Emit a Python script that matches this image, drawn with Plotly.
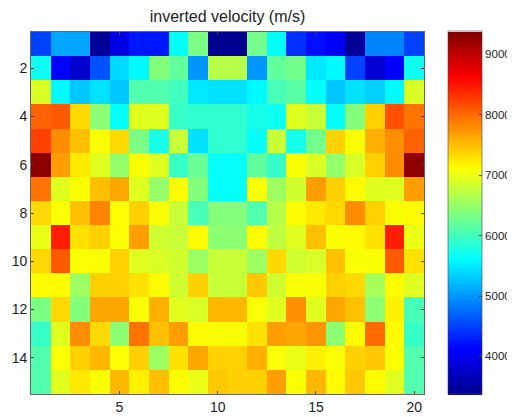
import plotly.graph_objects as go

columns = list(range(1, 21))
rows = list(range(1, 16))
x_ticks = [5, 10, 15, 20]
y_ticks = [2, 4, 6, 8, 10, 12, 14]
cbar_ticks = [4000, 5000, 6000, 7000, 8000, 9000]

row01 = [4500, 5100, 5100, 3450, 3950, 4250, 4250, 5650, 6350, 3400, 3400, 6300, 5650, 4400, 4200, 4050, 3450, 4900, 4900, 4500]
row02 = [5700, 4100, 3800, 4600, 5400, 5600, 6400, 6200, 5000, 6700, 6700, 5000, 6200, 6300, 5500, 5600, 4500, 3850, 4100, 5700]
row03 = [6900, 5600, 5300, 5450, 5300, 6100, 6100, 6000, 5500, 5450, 5450, 5600, 6050, 6150, 5650, 5300, 5450, 5350, 5600, 6900]
row04 = [8050, 8100, 7350, 6450, 5650, 6950, 6950, 5950, 5900, 5900, 5900, 5750, 5700, 6950, 6800, 5650, 6400, 7400, 8150, 7950]
row05 = [8250, 7800, 7500, 7100, 7350, 6350, 5750, 6800, 5450, 5900, 5900, 5650, 6800, 5750, 6300, 7400, 7100, 7600, 7800, 8050]
row06 = [9300, 7700, 7250, 6950, 6500, 7100, 6950, 5950, 6250, 5650, 5650, 6200, 5950, 7100, 6900, 6500, 6900, 7400, 7800, 9300]
row07 = [7950, 6950, 7100, 7500, 7650, 6950, 6500, 7150, 6400, 5650, 5650, 7100, 6550, 6850, 7700, 7400, 7150, 6950, 6950, 7700]
row08 = [7350, 7100, 7500, 7850, 7100, 7400, 7100, 6800, 6050, 6400, 6400, 6100, 6700, 7150, 7250, 7350, 7800, 7400, 7100, 7150]
row09 = [7000, 8450, 7300, 7400, 7100, 7700, 6850, 6800, 7150, 6450, 6450, 7150, 6750, 6950, 7500, 7100, 7150, 7300, 8450, 7000]
row10 = [7350, 8100, 7100, 7100, 7400, 6950, 6900, 6850, 6550, 6800, 6800, 6550, 7350, 6850, 6900, 7500, 7100, 7100, 8100, 7300]
row11 = [7150, 7150, 6550, 7400, 7400, 7300, 7150, 6850, 7400, 6800, 6800, 7450, 6850, 7100, 7100, 7400, 7350, 6600, 7150, 6950]
row12 = [6350, 7350, 6400, 7650, 7650, 7100, 7600, 6950, 6900, 7550, 7550, 7100, 6950, 7800, 6950, 7650, 7500, 6450, 7200, 6050]
row13 = [5950, 6950, 7800, 7350, 6450, 7950, 7500, 7700, 7150, 7100, 7100, 7300, 7700, 7650, 7750, 6450, 7150, 8000, 7150, 5950]
row14 = [6100, 7100, 7400, 7550, 7100, 7400, 6550, 7300, 7650, 7400, 7400, 7600, 7100, 7000, 7200, 7100, 7400, 7450, 7100, 6100]
row15 = [6100, 6950, 7250, 7100, 7550, 7200, 7500, 7150, 7000, 7450, 7400, 7400, 7700, 7100, 7550, 7150, 7450, 7150, 6950, 6100]

velocity = [row01, row02, row03, row04, row05, row06, row07, row08,
            row09, row10, row11, row12, row13, row14, row15]

jet = [
    [0.0, "rgb(0,0,140)"],
    [0.125, "rgb(0,0,255)"],
    [0.375, "rgb(0,255,255)"],
    [0.625, "rgb(255,255,0)"],
    [0.875, "rgb(255,0,0)"],
    [1.0, "rgb(128,0,0)"],
]

# the page body has an 8px margin, so the figure is sized to fit the 515x417 window
W, H = 507, 409

fig = go.Figure(go.Heatmap(
    z=velocity, x=columns, y=rows,
    colorscale=jet, zmin=3370, zmax=9380,
    xgap=0, ygap=0,
    colorbar=dict(
        x=1.061, xanchor="left", xref="paper",
        y=0.5, yanchor="middle", len=1.003, lenmode="fraction",
        thickness=34, outlinewidth=0.6, outlinecolor="#444",
        tickvals=cbar_ticks, ticks="inside", ticklen=3, tickcolor="#444",
        tickfont=dict(family="Liberation Sans, Arial, sans-serif", size=11.5, color="#222"),
        ypad=0, xpad=0,
    ),
))

fig.update_layout(
    width=W, height=H,
    margin=dict(l=23, r=91, t=24, b=23, autoexpand=False),
    paper_bgcolor="white", plot_bgcolor="white",
    font=dict(family="Liberation Sans, Arial, sans-serif", color="#222"),
    title=dict(text="inverted velocity (m/s)", x=0.5, xref="paper", xanchor="center",
               y=1 - 8 / H, yanchor="middle", yref="container",
               font=dict(size=16, color="#222")),
    xaxis=dict(range=[0.5, 20.5], tickvals=x_ticks, ticks="inside", ticklen=3,
               tickfont=dict(size=14), showgrid=False, zeroline=False, automargin=False,
               mirror="ticks", showline=True, linecolor="#666", linewidth=0.6),
    yaxis=dict(range=[15.5, 0.5], tickvals=y_ticks, ticks="inside", ticklen=3,
               tickfont=dict(size=14), showgrid=False, zeroline=False, automargin=False,
               mirror="ticks", showline=True, linecolor="#666", linewidth=0.6),
)

fig.write_html("out.html")
